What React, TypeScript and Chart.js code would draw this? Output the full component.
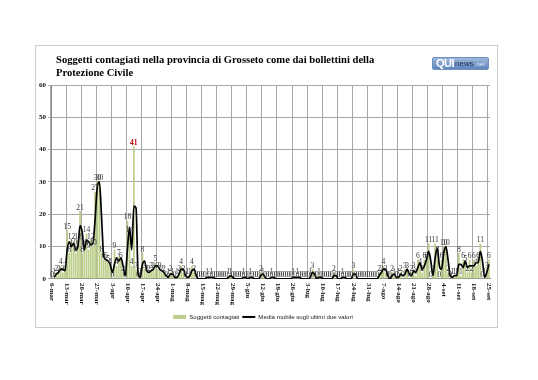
import { useEffect, useRef } from 'react';
import { Chart, registerables } from 'chart.js';

Chart.register(...registerables);

const titleLines = [
  'Soggetti contagiati nella provincia di Grosseto come dai bollettini della',
  'Protezione Civile',
];

const tickLabels = [
  '6-mar', '13-mar', '20-mar', '27-mar', '3-apr', '10-apr', '17-apr', '24-apr',
  '1-mag', '8-mag', '15-mag', '22-mag', '29-mag', '5-giu', '12-giu', '19-giu',
  '26-giu', '3-lug', '10-lug', '17-lug', '24-lug', '31-lug', '7-ago', '14-ago',
  '21-ago', '28-ago', '4-set', '11-set', '18-set', '25-set',
];

// daily new cases, one row per week starting at each tick label
const contagiati = [
  0, 1, 2, 2, 4, 2, 3,
  15, 8, 12, 10, 8, 12, 21,
  8, 10, 14, 9, 12, 10, 27,
  30, 30, 8, 6, 6, 5, 4,
  0, 9, 4, 7, 6, 2, 0,
  18, 14, 4, 41, 3, 0, 1,
  8, 3, 2, 2, 3, 3, 5,
  3, 3, 2, 2, 0, 1, 2,
  1, 0, 1, 2, 4, 2, 0,
  1, 1, 4, 2, 0, 0, 0,
  0, 0, 1, 0, 1, 0, 0,
  0, 0, 0, 0, 0, 1, 1,
  0, 0, 0, 0, 0, 1, 0,
  0, 1, 0, 0, 0, 0, 2,
  1, 0, 0, 0, 1, 0, 0,
  0, 0, 0, 0, 0, 0, 0,
  1, 0, 1, 0, 0, 0, 0,
  0, 1, 3, 0, 0, 1, 0,
  0, 0, 0, 0, 0, 2, 0,
  0, 0, 1, 0, 0, 0, 0,
  3, 0, 0, 0, 0, 0, 0,
  0, 0, 0, 0, 0, 2, 2,
  4, 2, 0, 0, 2, 1, 0,
  1, 2, 0, 3, 3, 0, 2,
  3, 1, 6, 4, 2, 6, 6,
  11, 0, 2, 11, 8, 0, 6,
  10, 10, 2, 0, 1, 1, 1,
  8, 1, 6, 5, 2, 6, 2,
  6, 4, 6, 11, 0, 1, 3,
  6,
];

const monthNames = ['mar', 'apr', 'mag', 'giu', 'lug', 'ago', 'set'];
const monthDays = [31, 30, 31, 30, 31, 31, 30];
const startDay = 6;

const categories: string[] = [];
{
  let m = 0;
  let d = startDay;
  while (categories.length < contagiati.length) {
    categories.push(`${d}-${monthNames[m]}`);
    d++;
    if (d > monthDays[m]) { d = 1; m++; }
  }
}

// 2-period moving average trendline (as defined in the legend)
const mediaMobile: (number | null)[] = contagiati.map((v, i) =>
  i === 0 ? null : (v + contagiati[i - 1]) / 2
);

const yTicks = { min: 0, max: 60, step: 10 };

const BAR_COLOR = '#bccf8a';
const GRID = '#a8a8a8';
const SERIF = "'Liberation Serif', 'Times New Roman', serif";
const SANS = "'Liberation Sans', Arial, sans-serif";

const labelPlugin = {
  id: 'customLabels',
  afterDatasetsDraw(chart: any) {
    const ctx = chart.ctx as CanvasRenderingContext2D;
    const meta = chart.getDatasetMeta(0);
    const max = Math.max(...contagiati);
    ctx.save();
    ctx.textAlign = 'center';
    ctx.textBaseline = 'alphabetic';
    meta.data.forEach((bar: any, i: number) => {
      const v = contagiati[i];
      if (v === max) {
        ctx.fillStyle = '#c00000';
        ctx.font = `bold 7.5px ${SERIF}`;
      } else {
        ctx.fillStyle = '#333';
        ctx.font = `7.5px ${SERIF}`;
      }
      ctx.fillText(String(v), bar.x, bar.y - 1.5);
    });
    const xs = chart.scales.x;
    ctx.fillStyle = '#111';
    ctx.font = `bold 7px ${SERIF}`;
    ctx.textAlign = 'left';
    ctx.textBaseline = 'middle';
    tickLabels.forEach((t, k) => {
      const x = xs.getPixelForValue(k * 7);
      ctx.save();
      ctx.translate(x, xs.top + 4);
      ctx.rotate(Math.PI / 2);
      ctx.fillText(t, 0, 0);
      ctx.restore();
    });
    ctx.restore();
  },
  afterDraw(chart: any) {
    const ctx = chart.ctx as CanvasRenderingContext2D;
    const left = chart.chartArea.left + 5;
    ctx.save();
    ctx.fillStyle = '#000';
    ctx.font = `bold 10.6px ${SERIF}`;
    ctx.textAlign = 'left';
    ctx.textBaseline = 'middle';
    titleLines.forEach((line, k) => {
      ctx.fillText(line, left, 14 + k * 13);
    });
    ctx.restore();
  },
};

export default function App() {
  const ref = useRef<HTMLCanvasElement>(null);

  useEffect(() => {
    if (!ref.current) return;
    const chart = new Chart(ref.current, {
      type: 'bar',
      data: {
        labels: categories,
        datasets: [
          {
            type: 'bar',
            label: 'Soggetti contagiati',
            data: contagiati,
            backgroundColor: BAR_COLOR,
            borderWidth: 0,
            barPercentage: 0.8,
            categoryPercentage: 1,
            order: 1,
          },
          {
            type: 'line',
            label: 'Media mobile sugli ultimi due valori',
            data: mediaMobile,
            borderColor: '#000',
            backgroundColor: '#000',
            borderWidth: 1.7,
            pointRadius: 0,
            cubicInterpolationMode: 'monotone',
            order: 0,
          } as any,
        ],
      },
      options: {
        responsive: false,
        animation: false,
        layout: { padding: { left: 0, right: 7, top: 39, bottom: -3 } },
        plugins: {
          title: { display: false },
          legend: {
            position: 'bottom',
            labels: {
              usePointStyle: true,
              pointStyleWidth: 13,
              boxHeight: 4,
              padding: 3,
              color: '#222',
              font: { family: SANS, size: 6.1 },
              sort: (a: any, b: any) => a.datasetIndex - b.datasetIndex,
              generateLabels: (c: any) =>
                c.data.datasets.map((ds: any, i: number) => ({
                  text: ds.label,
                  datasetIndex: i,
                  fillStyle: i === 0 ? BAR_COLOR : '#000',
                  strokeStyle: '#000',
                  lineWidth: i === 0 ? 0 : 2,
                  pointStyle: i === 0 ? 'rect' : 'line',
                  hidden: false,
                  fontColor: '#222',
                })),
            },
          },
          tooltip: { enabled: false },
        },
        scales: {
          x: {
            type: 'category',
            grid: {
              offset: true,
              color: (c: any) => (c.index % 7 === 0 ? GRID : 'rgba(0,0,0,0)'),
              drawTicks: false,
            },
            border: { display: true, color: '#888' },
            ticks: { display: false, autoSkip: false },
            afterFit: (s: any) => { s.height = 32; },
          },
          y: {
            min: yTicks.min,
            max: yTicks.max,
            ticks: {
              stepSize: yTicks.step,
              color: '#111',
              padding: 2,
              font: { family: SERIF, size: 7, weight: 'bold' },
            },
            grid: { color: GRID, tickLength: 3 },
            border: { display: true, color: '#888' },
            afterFit: (s: any) => { s.width = 15; },
          },
        },
      },
      plugins: [labelPlugin],
    });
    return () => chart.destroy();
  }, []);

  return (
    <div style={{ position: 'absolute', left: 0, top: 0, width: 538, height: 380, background: '#fff', overflow: 'hidden' }}>
      <div style={{ position: 'absolute', left: 35, top: 45, width: 461, height: 281, border: '1px solid #cccccc' }}>
        <canvas ref={ref} width={461} height={281} style={{ display: 'block', width: 461, height: 281 }} />
      </div>
      <div
        style={{
          position: 'absolute', left: 432, top: 57, width: 57, height: 13,
          borderRadius: 2, background: 'linear-gradient(#9db8dc, #5f86bd)',
          border: '1px solid #6f8fbf', boxSizing: 'border-box',
          fontFamily: SANS, display: 'flex', alignItems: 'center', paddingLeft: 3,
          lineHeight: 1,
        }}
      >
        <span style={{ color: '#fff', fontWeight: 'bold', fontSize: 11, letterSpacing: -0.5 }}>QUI</span>
        <span style={{ color: '#1c2f55', fontSize: 8, marginLeft: 1 }}>news</span>
        <span style={{ color: '#dfe8f5', fontSize: 6, marginLeft: 1 }}>.net</span>
      </div>
    </div>
  );
}
